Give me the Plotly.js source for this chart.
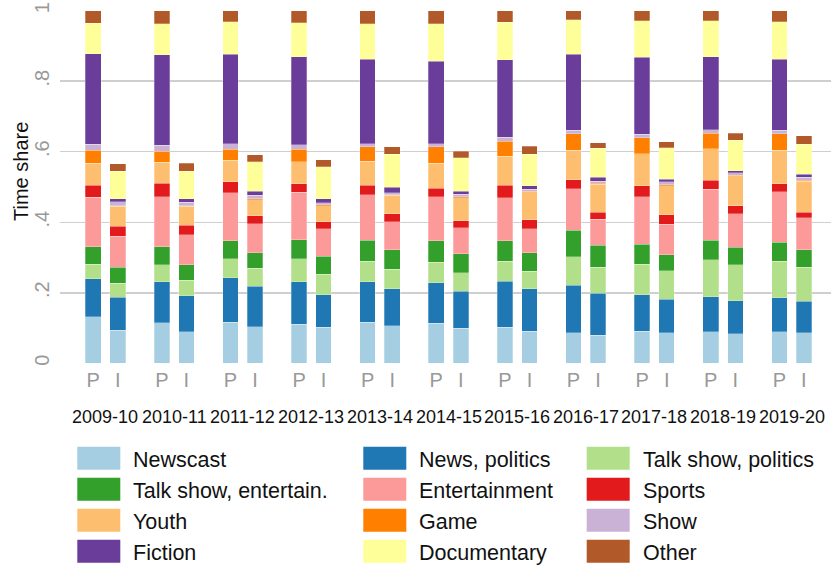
<!DOCTYPE html>
<html>
<head>
<meta charset="utf-8">
<script src="https://cdn.plot.ly/plotly-3.0.1.min.js"></script>
<style>html,body{margin:0;padding:0;background:#fff;}#chart{width:831px;height:565px;}</style>
</head>
<body>
<div id="chart"></div>
<script>
// Seasons; each season has a "P" bar and an "I" bar (values listed P then I)
const seasons = ['2009-10','2010-11','2011-12','2012-13','2013-14','2014-15','2015-16','2016-17','2017-18','2018-19','2019-20'];
const barTypes = ['P','I'];

const categories = ['Newscast','News, politics','Talk show, politics','Talk show, entertain.','Entertainment','Sports','Youth','Game','Show','Fiction','Documentary','Other'];
const colors = ['#a6cee3','#1f78b4','#b2df8a','#33a02c','#fb9a99','#e31a1c','#fdbf6f','#ff7f00','#cab2d6','#6a3d9a','#ffff99','#b15928'];

const newscast      = [0.132,0.094, 0.115,0.090, 0.117,0.103, 0.111,0.102, 0.116,0.107, 0.113,0.099, 0.102,0.091, 0.086,0.080, 0.091,0.087, 0.089,0.084, 0.090,0.086];
const newsPolitics  = [0.108,0.094, 0.116,0.101, 0.126,0.115, 0.120,0.093, 0.115,0.105, 0.116,0.106, 0.131,0.121, 0.135,0.118, 0.104,0.094, 0.100,0.094, 0.096,0.090];
const talkPolitics  = [0.041,0.039, 0.048,0.044, 0.054,0.052, 0.066,0.058, 0.059,0.055, 0.058,0.052, 0.056,0.049, 0.081,0.075, 0.086,0.081, 0.104,0.101, 0.104,0.097];
const talkEntertain = [0.049,0.045, 0.051,0.045, 0.050,0.043, 0.053,0.050, 0.059,0.055, 0.060,0.053, 0.058,0.053, 0.075,0.062, 0.057,0.046, 0.056,0.050, 0.054,0.049];
const entertainment = [0.141,0.089, 0.143,0.084, 0.136,0.083, 0.135,0.078, 0.129,0.079, 0.125,0.075, 0.123,0.067, 0.118,0.073, 0.134,0.087, 0.145,0.095, 0.143,0.091];
const sports        = [0.034,0.027, 0.037,0.028, 0.032,0.023, 0.024,0.020, 0.027,0.023, 0.024,0.019, 0.035,0.026, 0.026,0.020, 0.032,0.026, 0.025,0.023, 0.022,0.016];
const youth         = [0.063,0.057, 0.060,0.053, 0.061,0.045, 0.062,0.046, 0.068,0.052, 0.072,0.066, 0.082,0.079, 0.083,0.080, 0.090,0.083, 0.090,0.085, 0.095,0.088];
const game          = [0.036,0.002, 0.032,0.002, 0.031,0.002, 0.036,0.002, 0.041,0.002, 0.046,0.002, 0.043,0.002, 0.047,0.002, 0.046,0.002, 0.044,0.002, 0.047,0.002];
const show          = [0.017,0.011, 0.016,0.010, 0.016,0.010, 0.013,0.006, 0.009,0.005, 0.009,0.007, 0.011,0.006, 0.010,0.007, 0.010,0.009, 0.010,0.006, 0.010,0.009];
const fiction       = [0.257,0.009, 0.257,0.009, 0.254,0.012, 0.249,0.012, 0.240,0.016, 0.233,0.009, 0.220,0.009, 0.216,0.010, 0.218,0.007, 0.207,0.006, 0.202,0.008];
const documentary   = [0.087,0.077, 0.088,0.079, 0.092,0.083, 0.097,0.090, 0.100,0.094, 0.107,0.095, 0.106,0.090, 0.098,0.083, 0.104,0.089, 0.101,0.087, 0.105,0.085];
const other         = [0.035,0.022, 0.037,0.022, 0.031,0.020, 0.034,0.021, 0.037,0.021, 0.037,0.019, 0.033,0.022, 0.025,0.015, 0.028,0.018, 0.029,0.019, 0.032,0.024];

const seriesValues = [newscast,newsPolitics,talkPolitics,talkEntertain,entertainment,sports,youth,game,show,fiction,documentary,other];

const yTickVals = [0,0.2,0.4,0.6,0.8,1];
const yTickText = ['0','.2','.4','.6','.8','1'];

// ---- layout geometry ----
const W = 831, H = 565;
const M = {l:60, r:0, t:10, b:201};
const pw = W - M.l - M.r, ph = H - M.t - M.b;
const off = 0.179, bw = 0.227;
const px2x = p => (p - M.l) / pw;
const py2y = p => (H - M.b - p) / ph;

const xPos = [], tickText = [];
seasons.forEach((s,g) => { barTypes.forEach((t,k) => { xPos.push(g + (k === 0 ? -off : off)); tickText.push(t); }); });

const FONT = '"Liberation Sans", Arial, Helvetica, sans-serif';

const traces = categories.map((c,i) => ({
  type:'bar', name:c, x:xPos, y:seriesValues[i], width:bw,
  marker:{color:colors[i], line:{color:'rgba(255,255,255,0.45)', width:0.6}},
  showlegend:false, hoverinfo:'name+y'
}));

const shapes = [], annotations = [];
// Season labels under P/I
seasons.forEach((s,g) => annotations.push({
  text:s, x:g, xref:'x', y:py2y(416.5), yref:'paper', showarrow:false,
  xanchor:'center', yanchor:'middle', font:{family:FONT, size:18, color:'#111'}
}));
// y title
annotations.push({text:'Time share', x:px2x(21), y:py2y(172), xref:'paper', yref:'paper', showarrow:false,
  textangle:-90, xanchor:'center', yanchor:'middle', font:{family:FONT, size:20, color:'#111'}});

// Manual legend (3 columns x 4 rows, row-major)
const colSw = [77.3, 363.3, 586.7], colTx = [131, 417, 640.7];
const rowC = [458.3, 489.3, 520.3, 551.3];
categories.forEach((c,i) => {
  const col = i % 3, row = Math.floor(i / 3);
  shapes.push({type:'rect', xref:'paper', yref:'paper',
    x0:px2x(colSw[col]), x1:px2x(colSw[col] + 43),
    y0:py2y(rowC[row] + 11.5), y1:py2y(rowC[row] - 11.5),
    fillcolor:colors[i], line:{width:0}});
  annotations.push({text:c, xref:'paper', yref:'paper', x:px2x(colTx[col]), y:py2y(rowC[row] + 2),
    xanchor:'left', yanchor:'middle', showarrow:false, font:{family:FONT, size:21.5, color:'#111'}});
});

const layout = {
  width:W, height:H, margin:M, barmode:'stack', bargap:0,
  paper_bgcolor:'#fff', plot_bgcolor:'#fff', showlegend:false,
  font:{family:FONT},
  xaxis:{range:[-0.663, 10.574], tickvals:xPos, ticktext:tickText, tickangle:0,
    showgrid:false, zeroline:false, showline:false, ticks:'',
    tickfont:{family:FONT, size:20, color:'#999'}, ticklabelstandoff:2},
  yaxis:{range:[-0.002, 1.002], tickvals:yTickVals, ticktext:yTickText, tickangle:-90,
    showgrid:true, gridcolor:'#cfcfcf', gridwidth:1.5, zeroline:false, showline:false, ticks:'',
    tickfont:{family:FONT, size:20, color:'#999'}, ticklabelstandoff:6},
  shapes:shapes, annotations:annotations
};

Plotly.newPlot('chart', traces, layout, {displayModeBar:false, staticPlot:true});
</script>
</body>
</html>
